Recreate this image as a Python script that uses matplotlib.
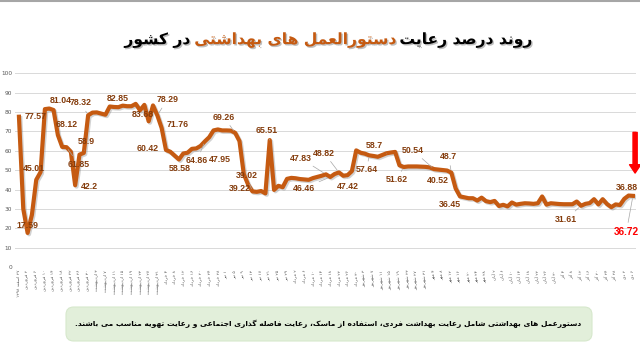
import re

import matplotlib
matplotlib.use('Agg')
import matplotlib.pyplot as plt
import matplotlib.patheffects as pe
from matplotlib.lines import Line2D
from matplotlib.patches import FancyBboxPatch

# ---- data -------------------------------------------------------------
title_parts = ['روند درصد رعایت', 'دستورالعمل های بهداشتی', 'در کشور']
note = ('دستورعمل های بهداشتی شامل رعایت بهداشت فردی، استفاده از ماسک، '
        'رعایت فاصله گذاری اجتماعی و رعایت تهویه مناسب می باشند.')

dates = [
    '۲۷ اسفند ۱۳۹۸', '۲ فروردین', '۶ فروردین', '۱۰ فروردین', '۱۴ فروردین',
    '۱۸ فروردین', '۲۲ فروردین', '۲۶ فروردین', '۳۰ فروردین', '۳ اردیبهشت',
    '۷ اردیبهشت', '۱۱ اردیبهشت', '۱۵ اردیبهشت', '۱۹ اردیبهشت', '۲۳ اردیبهشت',
    '۲۷ اردیبهشت', '۳۱ اردیبهشت', '۴ خرداد', '۸ خرداد', '۱۲ خرداد',
    '۱۶ خرداد', '۲۰ خرداد', '۲۴ خرداد', '۲۸ خرداد', '۱ تیر',
    '۵ تیر', '۹ تیر', '۱۳ تیر', '۱۷ تیر', '۲۱ تیر',
    '۲۵ تیر', '۲۹ تیر', '۲ مرداد', '۶ مرداد', '۱۰ مرداد',
    '۱۴ مرداد', '۱۸ مرداد', '۲۲ مرداد', '۲۶ مرداد', '۳۰ مرداد',
    '۳ شهریور', '۷ شهریور', '۱۱ شهریور', '۱۵ شهریور', '۱۹ شهریور',
    '۲۳ شهریور', '۲۷ شهریور', '۳۱ شهریور', '۴ مهر', '۸ مهر',
    '۱۲ مهر', '۱۶ مهر', '۲۰ مهر', '۲۴ مهر', '۲۸ مهر',
    '۲ آبان', '۶ آبان', '۱۰ آبان', '۱۴ آبان', '۱۸ آبان',
    '۲۲ آبان', '۲۶ آبان', '۳۰ آبان', '۴ آذر', '۸ آذر',
    '۱۲ آذر', '۱۶ آذر', '۲۰ آذر', '۲۴ آذر', '۲۸ آذر',
    '۲ دی', '۶ دی',
]

values = [
    77.57, 30, 17.59, 27, 45.01, 49, 81.5, 81.8, 81.04, 68.12,
    62, 61.85, 59.5, 42.2, 58, 58.9, 78.32, 79.7, 79.8, 79.2,
    78.6, 82.85, 82.6, 82.5, 83.3, 83, 83, 84.2, 80.9, 83.68,
    75.2, 83.4, 78.29, 71.76, 60.42, 59.5, 57.5, 55.5, 58.58, 59,
    61, 61.2, 62.5, 64.86, 67, 70.5, 71, 70.5, 70.5, 70.4,
    69.26, 65, 47.95, 42.5, 39.02, 38.8, 39.22, 38, 65.51, 39.8,
    41.9, 41.2, 45.5, 46, 45.8, 45.4, 45.2, 45, 45.9, 46.5,
    47.1, 47.83, 46.46, 48, 48.82, 47.1, 47.42, 49.5, 60.2, 59,
    58.5, 57.64, 57.3, 56.9, 57.8, 58.7, 59.1, 59.4, 52.5, 51.62,
    51.9, 51.9, 51.9, 51.8, 51.7, 51.4, 50.54, 50.3, 50.1, 49.8,
    48.7, 40.52, 36.45, 36, 35.5, 35.5, 34.3, 35.8, 34, 33.5,
    34.1, 31.5, 32.1, 31.3, 33.3, 32.2, 32.6, 32.9, 32.8, 32.6,
    32.9, 36.4, 32.2, 32.9, 32.7, 32.5, 32.4, 32.4, 32.4, 33.8,
    31.61, 32.6, 33, 35, 32.3, 35, 32.5, 30.9, 32.3, 32,
    35.2, 36.88, 36.72,
]

# points that carry a data label
label_idx = [0, 2, 4, 8, 16, 9, 15, 11, 13, 21, 29, 32, 33, 34, 38, 43, 50,
             52, 54, 56, 58, 71, 74, 72, 76, 81, 85, 89, 96, 101, 100, 102,
             130, 141, 142]

# ---- persian shaping (matplotlib has no complex text layout) -----------
FORMS = {
    'ا': ('\uFE8D', '\uFE8E', None, None), 'آ': ('\uFE81', '\uFE82', None, None),
    'ب': ('\uFE8F', '\uFE90', '\uFE91', '\uFE92'), 'ت': ('\uFE95', '\uFE96', '\uFE97', '\uFE98'),
    'ج': ('\uFE9D', '\uFE9E', '\uFE9F', '\uFEA0'), 'خ': ('\uFEA5', '\uFEA6', '\uFEA7', '\uFEA8'),
    'د': ('\uFEA9', '\uFEAA', None, None), 'ذ': ('\uFEAB', '\uFEAC', None, None),
    'ر': ('\uFEAD', '\uFEAE', None, None), 'ز': ('\uFEAF', '\uFEB0', None, None),
    'س': ('\uFEB1', '\uFEB2', '\uFEB3', '\uFEB4'), 'ش': ('\uFEB5', '\uFEB6', '\uFEB7', '\uFEB8'),
    'ص': ('\uFEB9', '\uFEBA', '\uFEBB', '\uFEBC'), 'ع': ('\uFEC9', '\uFECA', '\uFECB', '\uFECC'),
    'ف': ('\uFED1', '\uFED2', '\uFED3', '\uFED4'), 'ل': ('\uFEDD', '\uFEDE', '\uFEDF', '\uFEE0'),
    'م': ('\uFEE1', '\uFEE2', '\uFEE3', '\uFEE4'), 'ن': ('\uFEE5', '\uFEE6', '\uFEE7', '\uFEE8'),
    'ه': ('\uFEE9', '\uFEEA', '\uFEEB', '\uFEEC'), 'و': ('\uFEED', '\uFEEE', None, None),
    'ی': ('\uFBFC', '\uFBFD', '\uFBFE', '\uFBFF'), 'ک': ('\uFB8E', '\uFB8F', '\uFB90', '\uFB91'),
    'گ': ('\uFB92', '\uFB93', '\uFB94', '\uFB95'),
}


def fa(text):
    out = []
    for i, c in enumerate(text):
        f = FORMS.get(c)
        if f is None:
            out.append(c)
            continue
        prev = text[i - 1] if i > 0 else ''
        nxt = text[i + 1] if i + 1 < len(text) else ''
        pj = prev in FORMS and FORMS[prev][2] is not None
        nj = nxt in FORMS and f[2] is not None
        if pj and nj:
            out.append(f[3])
        elif pj:
            out.append(f[1])
        elif nj:
            out.append(f[2])
        else:
            out.append(f[0])
    s = ''.join(out)[::-1]
    return re.sub(r'[0-9۰-۹]+', lambda m: m.group(0)[::-1], s)


# ---- figure -------------------------------------------------------------
fig = plt.figure(figsize=(6.4, 3.61), dpi=100)
fig.patch.set_facecolor('white')
ax = fig.add_axes([0.0234, 0.2604, 0.9703, 0.5366])

x = list(range(len(values)))
ax.plot(x, values, color='#C55A11', lw=3.0, solid_joinstyle='round',
        path_effects=[pe.SimpleLineShadow(offset=(1, -1), shadow_color='#7f7f7f', alpha=0.35),
                      pe.Normal()])

ax.set_xlim(-0.92, 142.7)
ax.set_ylim(0, 100)
ax.set_yticks(range(0, 101, 10))
ax.grid(axis='y', color='#d9d9d9', lw=0.7)
ax.set_axisbelow(True)
for s in ax.spines.values():
    s.set_visible(False)
ax.tick_params(axis='y', length=0, labelsize=4.2, labelcolor='#595959', pad=2)
ax.tick_params(axis='x', length=0, pad=2)
ax.set_xticks(x[::2])
ax.set_xticklabels([fa(d) for d in dates], rotation=90, fontsize=3.2,
                   color='#595959', va='top', ha='center')

# data label positions (data coords)
label_pos = [(3.9, 77.6), (1.9, 21.2), (3.5, 50.7), (9.7, 85.9), (14.3, 84.8),
             (11.1, 73.5), (15.6, 64.8), (13.8, 53.1), (16.2, 41.5), (22.9, 86.8),
             (28.6, 78.9), (34.3, 86.4), (36.6, 73.8), (29.8, 61.4), (37.2, 50.9),
             (41.2, 55.0), (47.4, 77.4), (46.4, 55.7), (52.6, 47.1), (51.0, 40.7),
             (57.2, 70.4), (65.1, 56.2), (70.6, 58.8), (65.9, 40.7), (76.1, 41.5),
             (80.4, 50.2), (82.1, 62.6), (87.3, 45.0), (91.1, 60.2), (96.8, 44.5),
             (99.4, 56.8), (99.6, 32.4), (126.5, 24.7), (140.6, 41.2), (140.5, 18.3)]
leaders = {16, 9, 11, 15, 32, 43, 50, 54, 58, 71, 74, 72, 76, 81, 85, 89, 96,
           100, 130, 142}

for i, (tx, ty) in zip(label_idx, label_pos):
    red = i == len(values) - 1
    props = None
    if i in leaders:
        props = dict(arrowstyle='-', color='#a6a6a6', lw=0.5, shrinkA=1, shrinkB=2)
    ax.annotate(f'{values[i]:g}', xy=(i, values[i]), xytext=(tx, ty),
                ha='center', va='center', fontsize=7.2 if red else 6.3,
                fontweight='bold', family='Liberation Sans',
                color='#FF0000' if red else '#843C0C', arrowprops=props,
                annotation_clip=False)

# red arrow pointing at the latest value
ax.annotate('', xy=(142.5, 48.5), xytext=(142.5, 69.5),
            arrowprops=dict(facecolor='#FF0000', edgecolor='#FF0000',
                            width=3, headwidth=8, headlength=6),
            annotation_clip=False)

# ---- title (three coloured runs, right to left) -------------------------
shadow = [pe.withSimplePatchShadow(offset=(1, -1), shadow_rgbFace='#808080', alpha=0.5)]
colors = ['black', '#C55A11', 'black']
texts = [fig.text(0, 0.889, fa(p), fontsize=11.2, fontweight='bold', color=c,
                  ha='right', va='center', path_effects=shadow)
         for p, c in zip(title_parts, colors)]
fig.canvas.draw()
r = fig.canvas.get_renderer()
gap = 4
widths = [t.get_window_extent(r).width for t in texts]
right = 328 + (sum(widths) + gap * (len(widths) - 1)) / 2
for t, w in zip(texts, widths):
    t.set_x(right / 640)
    right -= w + gap

# ---- note box -------------------------------------------------------------
fig.add_artist(FancyBboxPatch((66 / 640, 1 - 341 / 361), (592 - 66) / 640, 34 / 361,
                              boxstyle='round,pad=0,rounding_size=0.012',
                              mutation_aspect=640 / 361,
                              transform=fig.transFigure, fc='#E2EFDA', ec='#D6E8CC', lw=0.8))
fig.text(328 / 640, 1 - 324 / 361, fa(note), fontsize=5.4, fontweight='bold',
         color='black', ha='center', va='center')

# thin frame line at the top
fig.add_artist(Line2D([0, 1], [0.997, 0.997], color='#a6a6a6', lw=1.5,
                      transform=fig.transFigure))

fig.savefig('out.png', dpi=100)
